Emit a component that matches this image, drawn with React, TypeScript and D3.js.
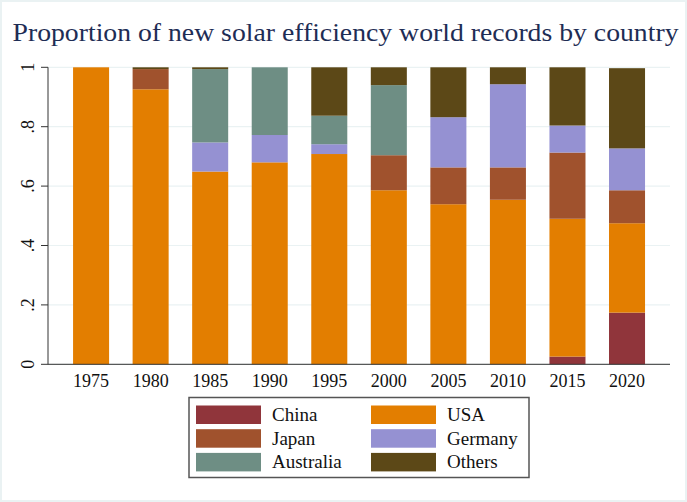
import React from "react";
import * as d3 from "d3";

const years = ["1975", "1980", "1985", "1990", "1995", "2000", "2005", "2010", "2015", "2020"];
const seriesNames = ["China", "USA", "Japan", "Germany", "Australia", "Others"];
const china = [0, 0, 0, 0, 0, 0, 0, 0, 0.026, 0.174];
const usa = [1, 0.926, 0.649, 0.68, 0.708, 0.586, 0.539, 0.554, 0.464, 0.301];
const japan = [0, 0.068, 0, 0, 0, 0.118, 0.124, 0.109, 0.223, 0.111];
const germany = [0, 0, 0.098, 0.092, 0.033, 0, 0.169, 0.28, 0.091, 0.141];
const australia = [0, 0, 0.247, 0.228, 0.096, 0.236, 0, 0, 0, 0];
const others = [0, 0.006, 0.006, 0, 0.163, 0.06, 0.168, 0.057, 0.196, 0.27];
const yTicks = [0, 0.2, 0.4, 0.6, 0.8, 1];
const yTickLabels = ["0", ".2", ".4", ".6", ".8", "1"];
const colors = ["#90353B", "#E37E00", "#A0522D", "#9591D2", "#6E8E84", "#5C4817"];

const W = 687;
const H = 502;
const plotLeft = 48;
const plotRight = 670;
const plotTop = 67.3;
const plotBottom = 364.3;

export default function App() {
  const seriesValues = [china, usa, japan, germany, australia, others];
  const table = years.map((y, i) => {
    const row: any = { year: y };
    seriesNames.forEach((s, k) => (row[s] = seriesValues[k][i]));
    return row;
  });
  const stacked = d3.stack().keys(seriesNames)(table);

  const x = d3.scaleBand().domain(years).range([61.3, 656.8]).paddingInner(0.395).paddingOuter(0.1975);
  const y = d3.scaleLinear().domain([0, 1]).range([plotBottom, plotTop]);

  const serif = "'Liberation Serif', 'DejaVu Serif', serif";
  const legendRows = [
    [0, 1],
    [2, 3],
    [4, 5],
  ];

  return (
    <svg width={W} height={H} style={{ display: "block", position: "absolute", left: 0, top: 0 }}>
      <rect x={0} y={0} width={W} height={H} fill="#EAF2F3" />
      <rect x={2} y={2} width={W - 4} height={H - 4} fill="#ffffff" />
      <text
        x={345.5}
        y={41}
        textAnchor="middle"
        fontFamily={serif}
        fontSize={25.5}
        fill="#1E2D55"
        textLength={666}
        lengthAdjust="spacingAndGlyphs"
      >
        Proportion of new solar efficiency world records by country
      </text>
      {yTicks.map((t) => (
        <line key={"g" + t} x1={plotLeft} x2={plotRight} y1={y(t)} y2={y(t)} stroke="#EAF2F3" strokeWidth={1.2} />
      ))}
      {stacked.map((s, k) => (
        <g key={s.key} fill={colors[k]}>
          {s.map((d, i) =>
            d[1] - d[0] > 0 ? (
              <rect key={i} x={x(years[i])} width={x.bandwidth()} y={y(d[1])} height={y(d[0]) - y(d[1])} />
            ) : null
          )}
        </g>
      ))}
      <line x1={plotLeft} x2={plotLeft} y1={plotTop} y2={plotBottom} stroke="#333" strokeWidth={1} />
      <line x1={plotLeft} x2={plotRight} y1={plotBottom} y2={plotBottom} stroke="#333" strokeWidth={1} />
      {yTicks.map((t, i) => (
        <g key={"t" + t}>
          <line x1={41} x2={plotLeft} y1={y(t)} y2={y(t)} stroke="#333" strokeWidth={1} />
          <text
            transform={`translate(33.5,${y(t)}) rotate(-90)`}
            textAnchor="middle"
            fontFamily={serif}
            fontSize={18}
            fill="#111"
          >
            {yTickLabels[i]}
          </text>
        </g>
      ))}
      {years.map((yr) => (
        <text
          key={"x" + yr}
          x={(x(yr) as number) + x.bandwidth() / 2}
          y={387}
          textAnchor="middle"
          fontFamily={serif}
          fontSize={18}
          fill="#111"
        >
          {yr}
        </text>
      ))}
      <rect x={189} y={397.5} width={340} height={80} fill="#fff" stroke="#555" strokeWidth={1.5} />
      {legendRows.map((row, r) =>
        row.map((k, c) => {
          const sx = c === 0 ? 196 : 371;
          const sy = 405.5 + r * 23.7;
          return (
            <g key={"l" + k}>
              <rect x={sx} y={sy} width={65} height={18.5} fill={colors[k]} />
              <text x={sx + 76} y={sy + 15.5} fontFamily={serif} fontSize={19} fill="#111">
                {seriesNames[k]}
              </text>
            </g>
          );
        })
      )}
    </svg>
  );
}
